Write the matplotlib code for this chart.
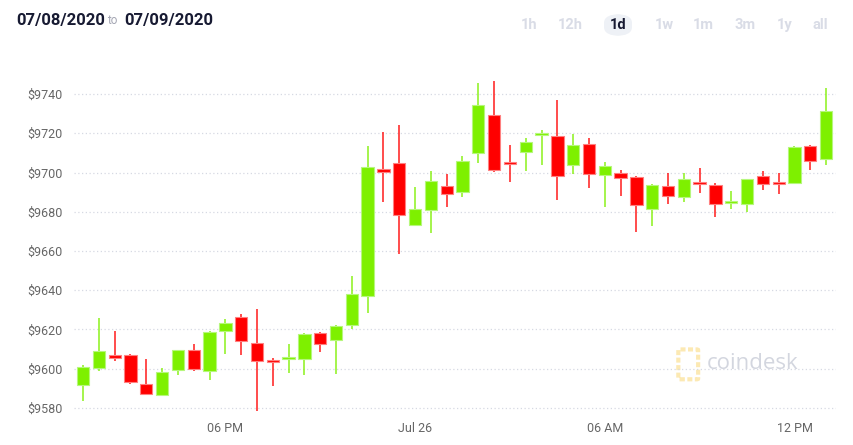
import numpy as np
import matplotlib.pyplot as plt
from matplotlib.patches import FancyBboxPatch

# 30 min candles, BTC price
opens = [9591.5, 9600.6, 9607.0, 9607.0, 9592.0, 9586.8, 9599.6, 9609.4, 9599.0, 9619.0,
         9626.2, 9613.3, 9604.0, 9605.0, 9605.0, 9618.0, 9614.5, 9622.2, 9637.3, 9702.0,
         9704.6, 9673.2, 9681.0, 9692.9, 9689.9, 9709.8, 9729.3, 9704.7, 9710.6, 9719.1,
         9718.4, 9703.6, 9714.6, 9698.7, 9699.5, 9697.5, 9681.5, 9693.1, 9687.3, 9694.8,
         9693.6, 9684.4, 9684.2, 9698.3, 9694.6, 9694.4, 9713.3, 9706.8]
highs = [9602.0, 9626.0, 9619.3, 9607.5, 9604.8, 9600.4, 9609.7, 9612.5, 9619.0, 9625.2,
         9627.8, 9630.2, 9605.7, 9612.5, 9618.4, 9618.5, 9622.3, 9647.2, 9713.6, 9720.5,
         9724.2, 9692.6, 9700.7, 9699.3, 9708.4, 9745.5, 9746.6, 9714.0, 9717.6, 9721.6,
         9737.0, 9719.6, 9717.4, 9705.2, 9701.2, 9698.2, 9694.0, 9699.5, 9699.5, 9702.3,
         9694.4, 9690.5, 9696.6, 9700.9, 9700.0, 9713.5, 9714.0, 9742.9]
lows = [9583.6, 9598.7, 9604.0, 9592.4, 9586.6, 9586.4, 9597.0, 9598.9, 9594.5, 9607.5,
        9607.0, 9578.5, 9591.4, 9598.0, 9596.8, 9608.5, 9597.5, 9620.0, 9628.4, 9685.1,
        9658.5, 9672.8, 9669.1, 9682.4, 9687.3, 9704.6, 9700.4, 9695.3, 9700.9, 9703.8,
        9686.0, 9699.0, 9692.2, 9682.5, 9688.0, 9669.8, 9672.8, 9684.2, 9684.8, 9689.7,
        9677.4, 9681.5, 9680.0, 9691.0, 9689.0, 9694.1, 9701.2, 9703.8]
closes = [9601.0, 9609.0, 9605.7, 9593.4, 9587.0, 9598.2, 9609.4, 9600.0, 9618.8, 9623.3,
          9614.0, 9604.0, 9603.5, 9605.8, 9617.9, 9612.8, 9622.0, 9638.3, 9702.9, 9700.4,
          9678.4, 9681.2, 9695.8, 9689.1, 9705.8, 9734.2, 9701.2, 9704.2, 9715.4, 9719.6,
          9698.2, 9714.0, 9699.3, 9703.1, 9697.2, 9683.5, 9693.7, 9688.0, 9696.6, 9694.2,
          9683.9, 9684.9, 9696.5, 9694.1, 9694.2, 9713.0, 9705.8, 9731.5]

tick_pos = [9, 21, 33, 45]
tick_labels = ["06 PM", "Jul 26", "06 AM", "12 PM"]
y_ticks = [9580, 9600, 9620, 9640, 9660, 9680, 9700, 9720, 9740]
ranges = ["1h", "12h", "1d", "1w", "1m", "3m", "1y", "all"]

GREEN = "#7ef000"
RED = "#ff0000"

o = np.array(opens)
c = np.array(closes)
h = np.array(highs)
l = np.array(lows)
x = np.arange(len(o))
up = c >= o
cols = np.where(up, GREEN, RED)
edge = np.where(up, "#b6f77c", "#ff8080")

fig = plt.figure(figsize=(8.54, 4.45), dpi=100)
ax = fig.add_axes([0.0867, 0.070, 0.8923, 0.754])

ax.vlines(x, l, h, colors=cols, lw=1.4, alpha=0.7, zorder=2)
bottom = np.minimum(o, c)
height = np.maximum(np.abs(c - o), 0.9)
ax.bar(x, height, bottom=bottom, width=0.78, color=cols, edgecolor=edge, lw=0.8, zorder=3)

ax.set_xlim(-0.57, 47.63)
ax.set_ylim(9577, 9748)
ax.set_yticks(y_ticks)
ax.set_yticklabels(["$%d" % v for v in y_ticks])
ax.set_xticks(tick_pos)
ax.set_xticklabels(tick_labels)
ax.tick_params(length=0, colors="#666666", labelsize=9, pad=8)
ax.tick_params(axis="x", pad=6)
for lab in ax.get_xticklabels() + ax.get_yticklabels():
    lab.set_fontfamily("Roboto")
ax.grid(axis="y", color="#d6d9e3", ls=(0, (1, 2)), lw=0.9, zorder=0)
for s in ax.spines.values():
    s.set_visible(False)

# watermark
ax.text(0.83, 0.15, "coindesk", transform=ax.transAxes, fontsize=16, color="#d3d6df",
        family="Open Sans", va="center", ha="left", zorder=1)
logo = FancyBboxPatch((0.795, 0.105), 0.022, 0.085, transform=ax.transAxes,
                      boxstyle="round,pad=0.002", fc="none", ec="#fce9b3", lw=3,
                      ls=(0, (1.2, 0.6)), zorder=1)
ax.add_patch(logo)

# header
fig.text(16 / 854, 1 - 21 / 445, "07/08/2020", fontsize=12, weight="bold",
         color="#171a32", va="center", family="Roboto")
fig.text(107 / 854, 1 - 21 / 445, "to", fontsize=8.5, color="#a4a6b3", va="center", family="Roboto")
fig.text(124 / 854, 1 - 21 / 445, "07/09/2020", fontsize=12, weight="bold",
         color="#171a32", va="center", family="Roboto")

btn_x = [529, 570, 618, 664, 703, 745, 785, 820]
pill = FancyBboxPatch((604 / 854, 1 - 36 / 445), 28 / 854, 22 / 445, transform=fig.transFigure,
                      boxstyle="round,pad=0,rounding_size=0.02", fc="#eef1f6", ec="none")
fig.patches.append(pill)
for bx, r in zip(btn_x, ranges):
    col = "#171a32" if r == "1d" else "#d9dce6"
    fig.text(bx / 854, 1 - 25 / 445, r, fontsize=10.5, weight="bold", color=col,
             ha="center", va="center", family="Roboto")

fig.savefig("out.png", dpi=100)
